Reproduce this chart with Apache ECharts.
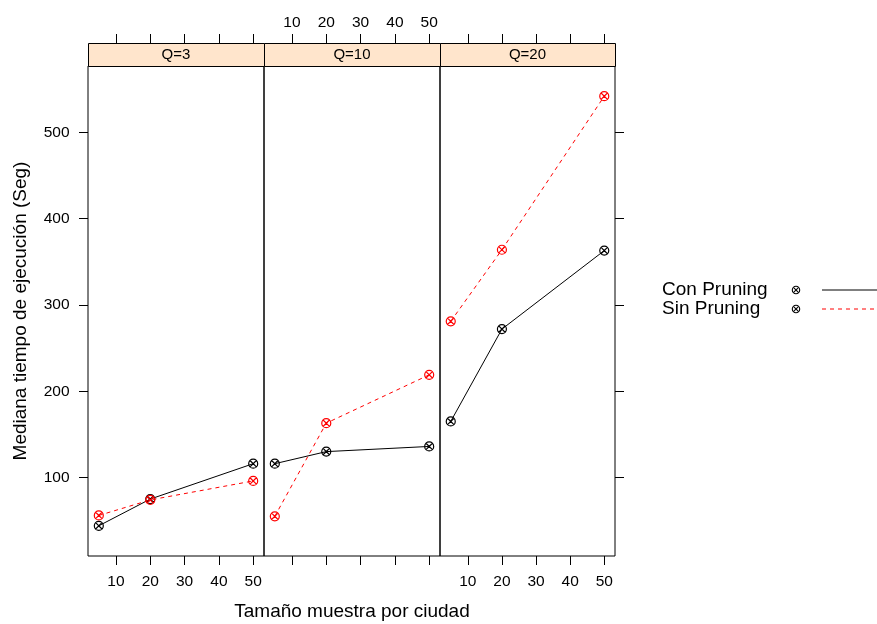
<!DOCTYPE html>
<html>
<head>
<meta charset="utf-8">
<script src="https://cdn.jsdelivr.net/npm/echarts@6/dist/echarts.min.js"></script>
<style>html,body{margin:0;padding:0;background:#fff}#c{width:877px;height:624px}</style>
</head>
<body>
<div id="c"></div>
<script>
// ---- data ----
const panelNames = ['Q=3', 'Q=10', 'Q=20'];
const sampleSizes = [5, 20, 50];
const conPruningQ3 = [44, 75, 116];
const conPruningQ10 = [116, 130, 136];
const conPruningQ20 = [165, 272, 363];
const sinPruningQ3 = [56, 74, 96];
const sinPruningQ10 = [55, 163, 219];
const sinPruningQ20 = [281, 364, 542];
const xTickValues = [10, 20, 30, 40, 50];
const yTickValues = [100, 200, 300, 400, 500];
const seriesNames = ['Con Pruning', 'Sin Pruning'];

// ---- layout ----
const FONT = 'Liberation Sans, Arial, Helvetica, sans-serif';
const panelLeft = [88, 264, 440];
const panelWidth = [176, 176, 175];
const panelTop = 66, panelHeight = 490, stripH = 23;
const xMin = 1.85, xMax = 53.15, yMin = 9, yMax = 577;
const TICK = 9;
const LABEL_SIZE = 15.5;

const conData = [conPruningQ3, conPruningQ10, conPruningQ20];
const sinData = [sinPruningQ3, sinPruningQ10, sinPruningQ20];

const pch13 = 'path://M0,-10A10,10 0 1,1 0,10A10,10 0 1,1 0,-10ZM-7.07,-7.07L7.07,7.07M-7.07,7.07L7.07,-7.07';

const grids = panelLeft.map((l, i) => ({
  left: l, top: panelTop, width: panelWidth[i], height: panelHeight,
  containLabel: false, outerBoundsMode: 'none',
  show: true, borderColor: '#000', borderWidth: 1, backgroundColor: 'transparent'
}));

function xAxisDef(gi, pos, labels, extra) {
  return Object.assign({
    type: 'value', gridIndex: gi, position: pos, min: xMin, max: xMax,
    offset: pos === 'top' ? stripH : 0,
    axisLine: { show: false }, splitLine: { show: false },
    axisTick: { show: true, length: TICK, customValues: xTickValues, lineStyle: { color: '#000' } },
    axisLabel: { show: labels, customValues: xTickValues, margin: pos === 'top' ? 12 : 18,
      color: '#000', fontSize: LABEL_SIZE, fontFamily: FONT }
  }, extra || {});
}
const xAxes = [
  xAxisDef(0, 'bottom', true),
  xAxisDef(0, 'top', false),
  xAxisDef(1, 'bottom', false, {
    name: 'Tamaño muestra por ciudad', nameLocation: 'middle', nameGap: 46,
    nameTextStyle: { color: '#000', fontSize: 19, fontFamily: FONT }
  }),
  xAxisDef(1, 'top', true),
  xAxisDef(2, 'bottom', true),
  xAxisDef(2, 'top', false)
];
function yAxisDef(gi, pos, show, labels, extra) {
  return Object.assign({
    type: 'value', gridIndex: gi, position: pos, min: yMin, max: yMax, show: show,
    axisLine: { show: false }, splitLine: { show: false },
    axisTick: { show: true, length: TICK, customValues: yTickValues, lineStyle: { color: '#000' } },
    axisLabel: { show: labels, customValues: yTickValues, margin: 18.5, color: '#000', fontSize: LABEL_SIZE, fontFamily: FONT }
  }, extra || {});
}
const yAxes = [
  yAxisDef(0, 'left', true, true, {
    name: 'Mediana tiempo de ejecución (Seg)', nameLocation: 'middle', nameGap: 58,
    nameTextStyle: { color: '#000', fontSize: 19, fontFamily: FONT }
  }),
  yAxisDef(1, 'left', false, false),
  yAxisDef(2, 'right', true, false)
];

const series = [];
for (let p = 0; p < 3; p++) {
  series.push({
    name: seriesNames[0], type: 'line', xAxisIndex: p * 2, yAxisIndex: p,
    data: sampleSizes.map((x, k) => [x, conData[p][k]]),
    symbol: pch13, symbolSize: 9, showSymbol: true,
    lineStyle: { color: '#000', width: 1, type: 'solid' },
    itemStyle: { color: 'rgba(0,0,0,0)', borderColor: '#000', borderWidth: 1.2 },
    emphasis: { disabled: true }, animation: false, z: 2
  });
}
for (let p = 0; p < 3; p++) {
  series.push({
    name: seriesNames[1], type: 'line', xAxisIndex: p * 2, yAxisIndex: p,
    data: sampleSizes.map((x, k) => [x, sinData[p][k]]),
    symbol: pch13, symbolSize: 9, showSymbol: true,
    lineStyle: { color: '#ff0000', width: 1, type: [4, 4] },
    itemStyle: { color: 'rgba(0,0,0,0)', borderColor: '#ff0000', borderWidth: 1.2 },
    emphasis: { disabled: true }, animation: false, z: 3
  });
}

// strips + legend (graphic)
const graphic = [];
panelLeft.forEach((l, i) => {
  graphic.push({
    type: 'rect', left: l, top: panelTop - stripH, z: 10,
    shape: { x: 0, y: 0, width: panelWidth[i], height: stripH },
    style: { fill: '#FFE5CC', stroke: '#000', lineWidth: 1 }
  });
  graphic.push({
    type: 'text', z: 11,
    x: l + panelWidth[i] / 2, y: panelTop - stripH / 2,
    style: { text: panelNames[i], fill: '#000', font: '15px ' + FONT, align: 'center', verticalAlign: 'middle' }
  });
});
const legendY = [290, 309];
const legendColors = ['#000', '#ff0000'];
const legendDash = [null, [4, 4]];
seriesNames.forEach((n, i) => {
  graphic.push({
    type: 'text', x: 662, y: legendY[i],
    style: { text: n, fill: '#000', font: '19px ' + FONT, align: 'left', verticalAlign: 'middle' }
  });
  graphic.push({
    type: 'group', x: 796, y: legendY[i], scaleX: 0.37, scaleY: 0.37,
    children: [
      { type: 'circle', shape: { cx: 0, cy: 0, r: 10 }, style: { fill: 'none', stroke: '#000', lineWidth: 3 } },
      { type: 'line', shape: { x1: -7.07, y1: -7.07, x2: 7.07, y2: 7.07 }, style: { stroke: '#000', lineWidth: 3 } },
      { type: 'line', shape: { x1: -7.07, y1: 7.07, x2: 7.07, y2: -7.07 }, style: { stroke: '#000', lineWidth: 3 } }
    ]
  });
  graphic.push({
    type: 'line', shape: { x1: 822, y1: legendY[i], x2: 877, y2: legendY[i] },
    style: { stroke: legendColors[i], lineWidth: 1, lineDash: legendDash[i] }
  });
});

const chart = echarts.init(document.getElementById('c'), null, { renderer: 'canvas' });
chart.setOption({
  backgroundColor: '#fff',
  animation: false,
  grid: grids,
  xAxis: xAxes,
  yAxis: yAxes,
  series: series,
  graphic: graphic
});
</script>
</body>
</html>
